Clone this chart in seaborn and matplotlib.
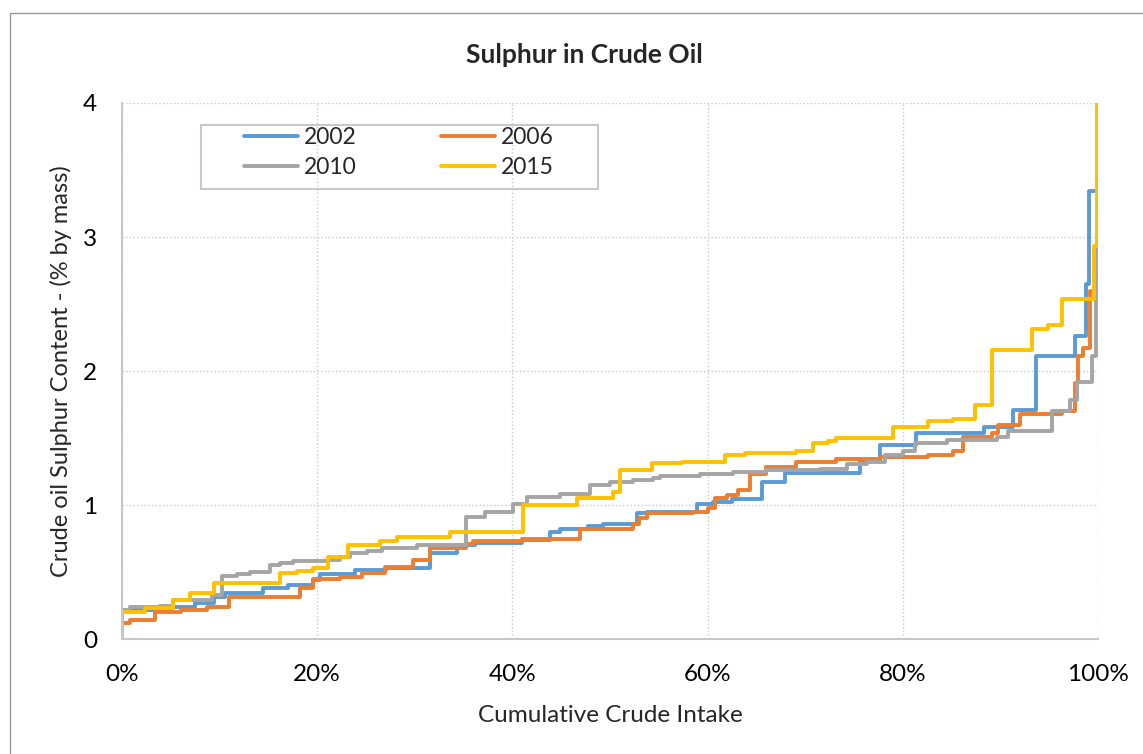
import pandas as pd
import matplotlib.pyplot as plt
import matplotlib.patches as patches
from matplotlib.ticker import PercentFormatter
import seaborn as sns

# step start positions (% of cumulative crude intake) and sulphur content (% by mass)
x_2002 = [0, 0.8, 5.0, 7.5, 9.4, 10.6, 14.5, 17.0, 19.6, 20.3, 23.9, 27.1, 31.6, 34.3, 36.2,
          41.0, 43.9, 44.9, 47.7, 49.3, 52.8, 53.8, 58.9, 60.6, 62.5, 65.6, 67.9, 75.6, 77.7,
          81.4, 88.3, 91.3, 93.7, 97.6, 98.8, 99.1, 100]
y_2002 = [0.21, 0.22, 0.24, 0.27, 0.315, 0.34, 0.38, 0.40, 0.44, 0.485, 0.515, 0.53, 0.64, 0.70, 0.72,
          0.74, 0.80, 0.82, 0.84, 0.86, 0.94, 0.95, 1.01, 1.02, 1.045, 1.17, 1.24, 1.33, 1.45,
          1.54, 1.585, 1.71, 2.11, 2.26, 2.65, 3.34, 3.34]

x_2006 = [0, 0.8, 3.4, 6.1, 8.7, 11.0, 18.2, 19.6, 22.3, 24.6, 26.9, 29.8, 31.6, 35.3, 36.0,
          41.0, 46.9, 52.4, 53.0, 53.8, 58.5, 60.0, 60.8, 62.0, 63.1, 64.3, 66.0, 69.1, 73.2,
          77.7, 82.6, 85.1, 86.2, 89.1, 89.8, 92.0, 96.3, 97.6, 98.0, 98.5, 99.2, 99.9, 100]
y_2006 = [0.12, 0.145, 0.20, 0.215, 0.24, 0.31, 0.38, 0.45, 0.465, 0.495, 0.54, 0.59, 0.68, 0.71, 0.73,
          0.745, 0.82, 0.86, 0.90, 0.94, 0.95, 0.975, 1.05, 1.075, 1.11, 1.23, 1.285, 1.32, 1.34,
          1.36, 1.37, 1.405, 1.505, 1.535, 1.60, 1.68, 1.70, 1.91, 2.11, 2.17, 2.60, 2.70, 2.70]

x_2010 = [0, 0.8, 3.9, 5.2, 9.2, 10.2, 11.8, 13.1, 15.2, 16.2, 17.5, 21.0, 22.3, 23.4, 25.1,
          26.6, 30.2, 35.3, 37.2, 40.1, 41.5, 44.9, 48.0, 50.0, 50.7, 52.4, 54.4, 55.1, 59.2,
          62.6, 66.0, 71.5, 74.3, 76.3, 78.2, 80.0, 81.3, 84.5, 89.7, 90.8, 95.3, 97.1, 97.9,
          99.4, 99.8, 100]
y_2010 = [0.22, 0.24, 0.25, 0.29, 0.33, 0.47, 0.485, 0.50, 0.55, 0.565, 0.585, 0.59, 0.615, 0.645, 0.66,
          0.68, 0.70, 0.91, 0.95, 1.01, 1.06, 1.08, 1.15, 1.17, 1.175, 1.19, 1.20, 1.215, 1.23,
          1.25, 1.26, 1.27, 1.305, 1.32, 1.37, 1.40, 1.46, 1.485, 1.51, 1.555, 1.70, 1.78, 1.92,
          2.11, 2.90, 2.90]

x_2015 = [0, 0.05, 2.4, 5.2, 7.0, 9.4, 16.2, 17.9, 19.6, 21.1, 23.2, 26.4, 28.2, 33.6, 41.1,
          46.6, 50.3, 51.0, 54.3, 57.4, 61.8, 63.8, 69.1, 70.8, 72.3, 73.2, 79.0, 82.6, 85.1,
          87.4, 89.1, 93.2, 94.9, 96.3, 99.6, 99.9, 100]
y_2015 = [0.0, 0.20, 0.23, 0.29, 0.34, 0.415, 0.49, 0.51, 0.53, 0.61, 0.70, 0.73, 0.76, 0.80, 1.00,
          1.05, 1.10, 1.26, 1.31, 1.32, 1.37, 1.385, 1.40, 1.46, 1.48, 1.50, 1.58, 1.63, 1.64,
          1.75, 2.16, 2.31, 2.34, 2.535, 2.93, 4.0, 4.0]

years = ['2002', '2006', '2010', '2015']
colors = ['#5B9BD5', '#ED7D31', '#A5A5A5', '#FFC000']


def build_frame():
    parts = []
    for year, xs, ys in zip(years, [x_2002, x_2006, x_2010, x_2015], [y_2002, y_2006, y_2010, y_2015]):
        parts.append(pd.DataFrame({'intake': xs, 'sulphur': ys, 'year': year}))
    return pd.concat(parts, ignore_index=True)


def main():
    sns.set_style('white')
    plt.rcParams['font.family'] = ['Lato', 'DejaVu Sans']

    df = build_frame()

    fig = plt.figure(figsize=(11.43, 7.54), dpi=100)
    ax = fig.add_axes([0.1067, 0.1525, 0.8539, 0.7109])

    sns.lineplot(data=df, x='intake', y='sulphur', hue='year', palette=colors,
                 drawstyle='steps-post', linewidth=2.8, estimator=None, sort=False,
                 legend=False, ax=ax)

    ax.set_xlim(0, 100)
    ax.set_ylim(0, 4)
    ax.set_xticks([0, 20, 40, 60, 80, 100])
    ax.set_yticks([0, 1, 2, 3, 4])
    ax.xaxis.set_major_formatter(PercentFormatter(decimals=0))
    ax.grid(True, linestyle=':', color='#c8c8c8', linewidth=1.0)
    ax.set_axisbelow(True)

    for side in ['top', 'right']:
        ax.spines[side].set_visible(False)
    for side in ['left', 'bottom']:
        ax.spines[side].set_color('#c8c8c8')
        ax.spines[side].set_linewidth(1.5)
    ax.tick_params(axis='both', direction='out', length=6, width=1.2, color='#c8c8c8',
                   labelsize=17.5, labelcolor='black', pad=12)

    ax.set_xlabel('Cumulative Crude Intake', fontsize=17.5)
    ax.set_ylabel('Crude oil Sulphur Content - (% by mass)', fontsize=17)
    ax.xaxis.set_label_coords(0.5, -0.123)
    ax.yaxis.set_label_coords(-0.051, 0.5)
    fig.text(0.511, 0.927, 'Sulphur in Crude Oil', ha='center', va='center',
             fontsize=19, fontweight='bold')

    # legend: no own frame, box drawn separately; column-first fill -> reorder for rows
    order = [0, 2, 1, 3]
    handles = [plt.Line2D([], [], color=colors[i], linewidth=2.8) for i in order]
    labels = [years[i] for i in order]
    ax.legend(handles, labels, loc='upper left', bbox_to_anchor=(0.125, 0.955), ncol=2,
              frameon=False, fontsize=16.5, handlelength=2.35, handletextpad=0.25,
              columnspacing=3.7, labelspacing=0.4, borderpad=0, borderaxespad=0)
    ax.add_patch(patches.Rectangle((0.081, 0.8396), 0.4068, 0.1194, transform=ax.transAxes,
                                   fill=False, edgecolor='#c8c8c8', linewidth=1.5, clip_on=False))

    # outer chart border
    fig.patches.append(patches.Rectangle((0.00875, -0.01), 1.1, 0.9928, transform=fig.transFigure,
                                         fill=False, edgecolor='#9a9a9a', linewidth=1.0))

    fig.savefig('out.png', dpi=100)
    plt.close(fig)


if __name__ == "__main__":
    main()
